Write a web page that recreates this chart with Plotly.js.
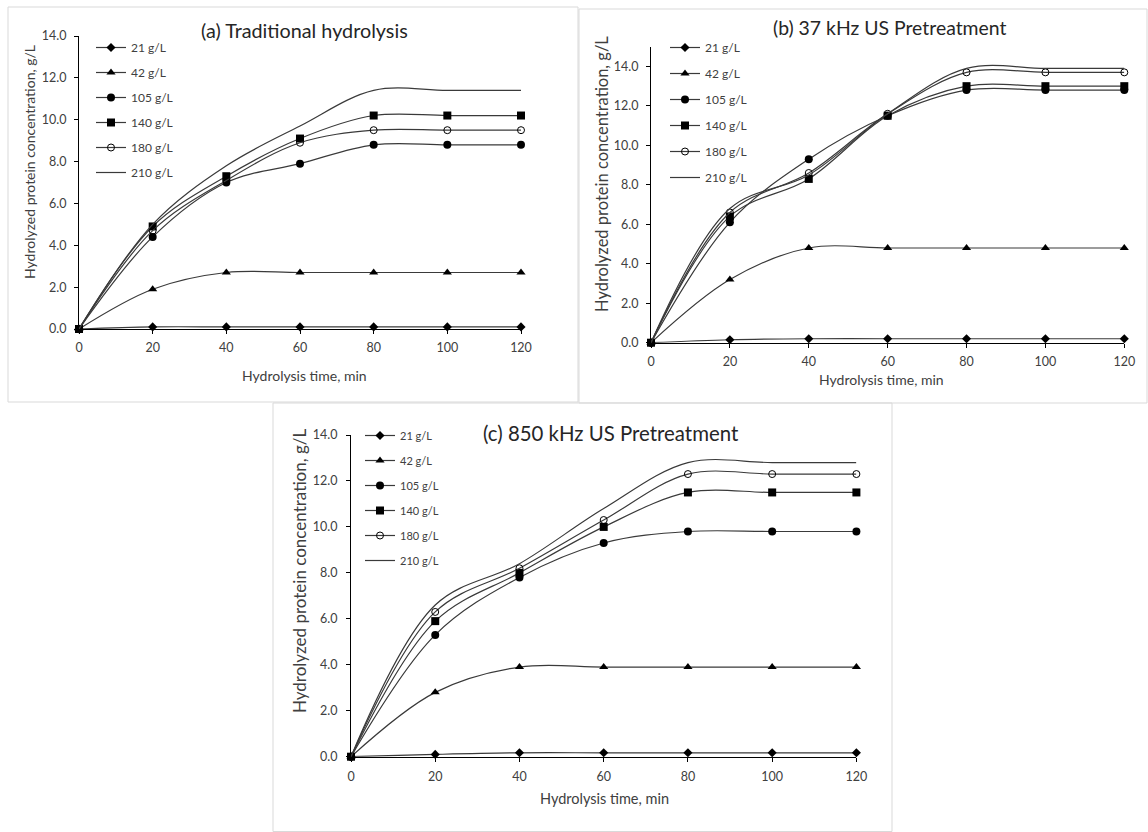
<!DOCTYPE html>
<html>
<head>
<meta charset="utf-8">
<script src="https://cdn.plot.ly/plotly-3.0.1.min.js"></script>
<style>html,body{margin:0;padding:0;background:#fff;}#chart{width:1148px;height:832px;}</style>
</head>
<body>
<div id="chart"></div>
<script>
// ---- data ----
const time = [0, 20, 40, 60, 80, 100, 120];
const seriesNames = ['21 g/L', '42 g/L', '105 g/L', '140 g/L', '180 g/L', '210 g/L'];
const panelTitles = ['(a) Traditional hydrolysis', '(b) 37 kHz US Pretreatment', '(c) 850 kHz US Pretreatment'];
const xTitle = 'Hydrolysis time, min';
const yTitle = 'Hydrolyzed protein concentration, g/L';

// (a) Traditional hydrolysis
const a21  = [0, 0.1, 0.1, 0.1, 0.1, 0.1, 0.1];
const a42  = [0, 1.9, 2.7, 2.7, 2.7, 2.7, 2.7];
const a105 = [0, 4.4, 7.0, 7.9, 8.8, 8.8, 8.8];
const a140 = [0, 4.9, 7.3, 9.1, 10.2, 10.2, 10.2];
const a180 = [0, 4.7, 7.1, 8.9, 9.5, 9.5, 9.5];
const a210 = [0, 5.0, 7.8, 9.7, 11.4, 11.4, 11.4];

// (b) 37 kHz US pretreatment
const b21  = [0, 0.15, 0.2, 0.2, 0.2, 0.2, 0.2];
const b42  = [0, 3.2, 4.8, 4.8, 4.8, 4.8, 4.8];
const b105 = [0, 6.1, 9.3, 11.5, 12.8, 12.8, 12.8];
const b140 = [0, 6.4, 8.3, 11.5, 13.0, 13.0, 13.0];
const b180 = [0, 6.6, 8.6, 11.6, 13.7, 13.7, 13.7];
const b210 = [0, 6.8, 8.5, 11.6, 13.9, 13.9, 13.9];

// (c) 850 kHz US pretreatment
const c21  = [0, 0.1, 0.17, 0.17, 0.17, 0.17, 0.17];
const c42  = [0, 2.8, 3.9, 3.9, 3.9, 3.9, 3.9];
const c105 = [0, 5.3, 7.8, 9.3, 9.8, 9.8, 9.8];
const c140 = [0, 5.9, 8.0, 10.0, 11.5, 11.5, 11.5];
const c180 = [0, 6.3, 8.2, 10.3, 12.3, 12.3, 12.3];
const c210 = [0, 6.6, 8.4, 10.8, 12.8, 12.8, 12.8];

// ---- styles ----
const markerStyles = [
  {symbol: 'diamond', size: 7},
  {symbol: 'triangle-up', size: 8},
  {symbol: 'circle', size: 8},
  {symbol: 'square', size: 8},
  {symbol: 'circle-open', size: 7},
  null
];
const FONT = 'Lato, "Open Sans", sans-serif';
const TXT = '#404040';

function panelTraces(seriesList, xa, ya, legendId) {
  return seriesList.map((ys, i) => {
    const ms = markerStyles[i];
    const tr = {
      type: 'scatter',
      x: time, y: ys,
      name: seriesNames[i],
      xaxis: xa, yaxis: ya,
      legend: legendId,
      legendgroup: legendId + '_' + i,
      mode: ms ? 'lines+markers' : 'lines',
      line: {shape: 'spline', smoothing: 1, color: '#3a3a3a', width: 1.2},
      cliponaxis: false
    };
    if (ms) {
      tr.marker = {symbol: ms.symbol, size: ms.size, color: '#000',
                   line: {color: '#000', width: ms.symbol === 'circle-open' ? 1 : 0}};
    }
    return tr;
  });
}

const data = [].concat(
  panelTraces([a21, a42, a105, a140, a180, a210], 'x', 'y', 'legend'),
  panelTraces([b21, b42, b105, b140, b180, b210], 'x2', 'y2', 'legend2'),
  panelTraces([c21, c42, c105, c140, c180, c210], 'x3', 'y3', 'legend3')
);

const W = 1148, H = 832;
const px = v => v / W;
const py = v => 1 - v / H;

function xAxis(d0, d1, anchor, standoff) {
  return {
    domain: [px(d0), px(d1)], anchor: anchor,
    range: [0, 120], tick0: 0, dtick: 20,
    ticks: 'outside', ticklen: 4, tickcolor: '#000', tickwidth: 1,
    ticklabelstandoff: standoff,
    showline: true, linecolor: '#000', linewidth: 1,
    showgrid: false, zeroline: false,
    tickfont: {family: FONT, size: 12.5, color: TXT},
    fixedrange: true
  };
}
function yAxis(top, bottom, rmax, anchor, standoff) {
  return {
    domain: [py(bottom), py(top)], anchor: anchor,
    range: [0, rmax], tick0: 0, dtick: 2, tickformat: '.1f',
    ticks: 'outside', ticklen: 4, tickcolor: '#000', tickwidth: 1,
    ticklabelstandoff: standoff,
    showline: true, linecolor: '#000', linewidth: 1,
    showgrid: false, zeroline: false,
    tickfont: {family: FONT, size: 12.5, color: TXT},
    fixedrange: true
  };
}
function legendBox(x, y, size, gap) {
  return {
    x: px(x), y: py(y), xanchor: 'left', yanchor: 'top',
    bgcolor: 'rgba(0,0,0,0)', borderwidth: 0,
    font: {family: FONT, size: size, color: TXT},
    tracegroupgap: gap, itemwidth: 30
  };
}
function border(x0, y0, x1, y1) {
  return {type: 'rect', xref: 'paper', yref: 'paper',
          x0: px(x0), x1: px(x1), y0: py(y1), y1: py(y0),
          line: {color: '#d9d9d9', width: 1}, fillcolor: 'rgba(0,0,0,0)', layer: 'below'};
}
function textAnn(text, x, y, size, angle, color) {
  return {text: text, xref: 'paper', yref: 'paper', x: px(x), y: py(y),
          xanchor: 'center', yanchor: 'middle', showarrow: false, textangle: angle || 0,
          font: {family: FONT, size: size, color: color || TXT}};
}

const layout = {
  width: W, height: H,
  margin: {l: 0, r: 0, t: 0, b: 0},
  paper_bgcolor: '#fff', plot_bgcolor: '#fff',
  showlegend: true,
  xaxis:  xAxis(79, 521, 'y', 3),
  yaxis:  yAxis(36, 329, 14, 'x', 5),
  xaxis2: xAxis(651, 1124.3, 'y2', 3),
  yaxis2: yAxis(46.7, 342.7, 15, 'x2', 5),
  xaxis3: xAxis(351, 856.4, 'y3', 4),
  yaxis3: yAxis(435, 756.7, 14, 'x3', 6),
  legend:  legendBox(91, 33, 12, 6),
  legend2: legendBox(665, 33, 12, 7),
  legend3: legendBox(360, 421, 11, 6),
  shapes: [
    border(8, 7, 578, 402),
    border(579, 9, 1147, 403),
    border(273, 403, 892, 831.5)
  ],
  annotations: [
    textAnn(panelTitles[0], 304.5, 30, 19.8, 0, '#262626'),
    textAnn(panelTitles[1], 889, 27, 19.4, 0, '#262626'),
    textAnn(panelTitles[2], 611.4, 433, 20.4, 0, '#262626'),
    textAnn(xTitle, 304.5, 375, 14),
    textAnn(xTitle, 881.5, 380, 14),
    textAnn(xTitle, 604, 798, 14.5),
    textAnn(yTitle, 30, 162, 14, -90),
    textAnn(yTitle, 602, 174, 16.5, -90),
    textAnn(yTitle, 299, 571, 17, -90)
  ]
};

Plotly.newPlot('chart', data, layout, {displayModeBar: false, staticPlot: true});
</script>
</body>
</html>
